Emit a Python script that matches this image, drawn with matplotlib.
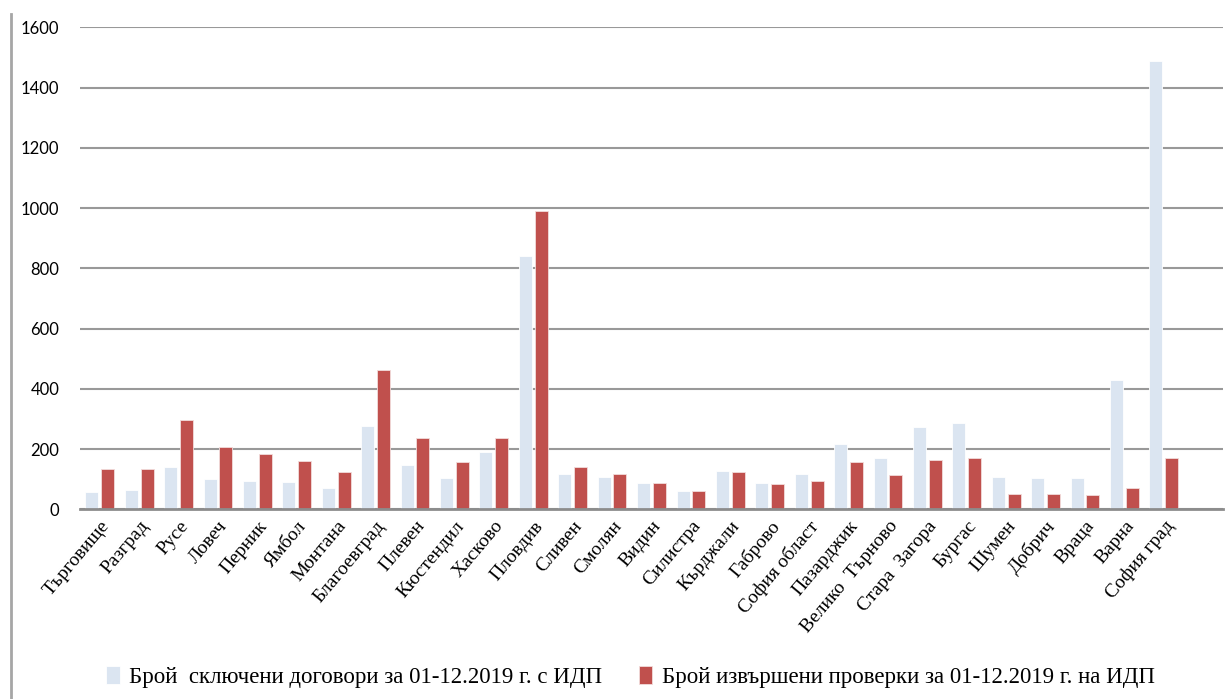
import matplotlib
matplotlib.use("Agg")
import matplotlib.pyplot as plt
from matplotlib.lines import Line2D
import numpy as np

# Области
regions = [
    "Търговище", "Разград", "Русе", "Ловеч", "Перник", "Ямбол", "Монтана",
    "Благоевград", "Плевен", "Кюстендил", "Хасково", "Пловдив", "Сливен",
    "Смолян", "Видин", "Силистра", "Кърджали", "Габрово", "София област",
    "Пазарджик", "Велико  Търново", "Стара  Загора", "Бургас", "Шумен",
    "Добрич", "Враца", "Варна", "София град",
]

# Брой сключени договори
contracts = [58, 63, 139, 99, 93, 89, 72, 278, 147, 104, 189, 842, 117, 108,
             86, 61, 128, 87, 118, 216, 171, 272, 288, 108, 103, 103, 428, 1489]

# Брой извършени проверки
inspections = [135, 135, 295, 208, 183, 161, 125, 461, 236, 158, 236, 991, 140,
               118, 86, 61, 123, 83, 93, 156, 114, 165, 171, 51, 51, 47, 72, 171]

series_labels = [
    "Брой  сключени договори за 01-12.2019 г. с ИДП",
    "Брой извършени проверки за 01-12.2019 г. на ИДП",
]
y_ticks = [0, 200, 400, 600, 800, 1000, 1200, 1400, 1600]

blue = "#dbe5f1"
red = "#c0504d"

fig = plt.figure(figsize=(12.31, 6.99), dpi=100)
ax = fig.add_axes([0.065, 0.2714, 0.9285, 0.6894])

x = np.arange(len(regions))
w = 0.33
off = 0.2
b1 = ax.bar(x - off, contracts, width=w, color=blue, edgecolor="white",
            linewidth=0.6, label=series_labels[0], zorder=3)
b2 = ax.bar(x + off, inspections, width=w, color=red, edgecolor="#f2dcdb",
            linewidth=0.6, label=series_labels[1], zorder=3)

# одна празна позиция вдясно от последната категория
ax.set_xlim(-0.5, len(regions) + 0.5)
ax.set_ylim(0, 1600)
ax.set_yticks(y_ticks)
ax.set_yticklabels([str(v) for v in y_ticks], fontfamily="Lato", fontsize=12)
ax.tick_params(axis="y", length=0, pad=15)
ax.yaxis.grid(True, color="#999999", linewidth=1.5, zorder=0)
ax.set_axisbelow(True)

ax.set_xticks(x)
ax.set_xticklabels(regions, rotation=50, ha="right", rotation_mode="anchor",
                   fontfamily="Liberation Serif", fontsize=14)
ax.tick_params(axis="x", length=0, pad=6)

for side in ("top", "right", "left"):
    ax.spines[side].set_visible(False)
ax.spines["bottom"].set_color("#8c8c8c")
ax.spines["bottom"].set_linewidth(2)
ax.spines["bottom"].set_zorder(4)

# рамка вляво
fig.add_artist(Line2D([0.0089, 0.0089], [0.0, 0.98], transform=fig.transFigure,
                      color="#a6a6a6", linewidth=2))

fig.legend(handles=[b1, b2], labels=series_labels, loc="center",
           bbox_to_anchor=(0.512, 0.031), ncol=2, frameon=False,
           prop={"family": "Liberation Serif", "size": 16.5},
           handlelength=0.6, handleheight=0.8, handletextpad=0.4,
           columnspacing=1.6)

fig.savefig("out.png", dpi=100)
